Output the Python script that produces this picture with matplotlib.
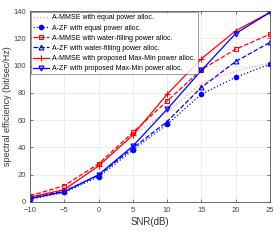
import matplotlib
matplotlib.use("Agg")
import matplotlib.pyplot as plt

# --- data ---
snr = [-10, -5, 0, 5, 10, 15, 20, 25]
mmse_equal = [4, 10, 26, 49, 66, 87, 96, 102]
zf_equal = [2, 7, 18.5, 38, 57, 79, 91.5, 101]
mmse_wf = [4.5, 12, 28, 51, 74, 97, 112, 123]
zf_wf = [3, 8, 19.5, 39.5, 59, 84, 103, 117]
mmse_maxmin = [3.5, 9, 26.5, 49, 79, 105, 125.5, 139]
zf_maxmin = [2.5, 7.5, 20, 41, 68, 96.5, 123.5, 139]

labels = [
    "A-MMSE with equal power alloc.",
    "A-ZF with equal power alloc.",
    "A-MMSE with water-filling power alloc.",
    "A-ZF with water-filling power alloc.",
    "A-MMSE with proposed Max-Min power alloc.",
    "A-ZF with proposed Max-Min power alloc.",
]

plt.rcParams["font.family"] = ["Liberation Sans", "DejaVu Sans"]

fig = plt.figure(figsize=(2.8, 2.42), dpi=100)
ax = fig.add_axes([30 / 280, 40 / 242, 240 / 280, 191 / 242])

lw = 0.9
ax.plot(snr, mmse_equal, ":", color="#ff9a9a", lw=lw, label=labels[0])
ax.plot(snr, zf_equal, ":", color="blue", lw=lw, marker="o", ms=3, label=labels[1])
ax.plot(snr, mmse_wf, "--", color="red", lw=lw, marker="s", ms=3.5,
        mfc="none", mew=0.8, label=labels[2])
ax.plot(snr, zf_wf, "--", color="blue", lw=lw, marker="^", ms=3.5,
        mfc="none", mew=0.8, label=labels[3])
ax.plot(snr, mmse_maxmin, "-", color="red", lw=lw, marker="+", ms=4,
        mew=0.8, label=labels[4])
ax.plot(snr, zf_maxmin, "-", color="blue", lw=lw, marker="v", ms=3.5,
        mfc="none", mew=0.9, label=labels[5])

ax.set_xlim(-10, 25)
ax.set_ylim(0, 140)
ax.set_xticks(snr)
ax.set_yticks(range(0, 141, 20))
ax.grid(True, color="#e6e6e6", lw=0.5)
ax.set_axisbelow(True)
ax.tick_params(direction="in", length=2, width=0.5, labelsize=5.5,
               colors="#444444", top=True, right=True)
ax.tick_params(axis="x", pad=3.5)
ax.tick_params(axis="y", pad=3)
for s in ax.spines.values():
    s.set_color("#555555")
    s.set_linewidth(0.6)

ax.set_xlabel("SNR(dB)", fontsize=7, color="#333333", labelpad=2.5)
ax.set_ylabel("spectral efficiency (bit/sec/Hz)", fontsize=6.5,
              color="#333333", labelpad=1)

leg = ax.legend(loc="upper left", fontsize=5, frameon=True, fancybox=False,
                borderaxespad=0.2, borderpad=0.3, labelspacing=0.45,
                handlelength=2.2, handletextpad=0.5)
leg.get_frame().set_edgecolor("#555555")
leg.get_frame().set_linewidth(0.5)

fig.savefig("out.png", dpi=100)
